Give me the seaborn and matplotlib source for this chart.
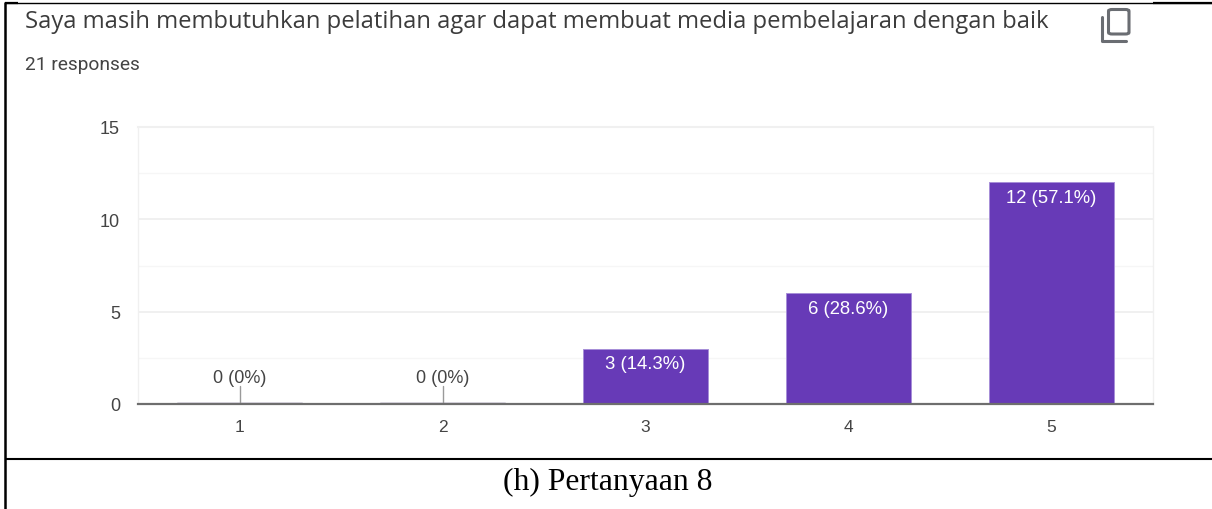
#!/usr/bin/env python3
import matplotlib
matplotlib.use("Agg")
import matplotlib.pyplot as plt
from matplotlib.lines import Line2D
from matplotlib.patches import FancyBboxPatch
import pandas as pd
import seaborn as sns

W, H = 1212, 510

# ── Data ──────────────────────────────────────────────────────────────────────
categories = ["1", "2", "3", "4", "5"]
counts = [0, 0, 3, 6, 12]
bar_labels = ["0 (0%)", "0 (0%)", "3 (14.3%)", "6 (28.6%)", "12 (57.1%)"]
y_ticks = [0, 5, 10, 15]
y_minor = [2.5, 7.5, 12.5]

TITLE = "Saya masih membutuhkan pelatihan agar dapat membuat media pembelajaran dengan baik"
SUBTITLE = "21 responses"
CAPTION = "(h) Pertanyaan 8"

PURPLE = "#673ab7"
TEXT = "#444444"
SANS = ["Liberation Sans", "DejaVu Sans"]


def fx(px):
    return px / W


def fy(px):
    return 1 - px / H


def frame_line(fig, x0, y0, x1, y1, lw=1.5):
    fig.add_artist(Line2D([fx(x0), fx(x1)], [fy(y0), fy(y1)], color="black",
                          linewidth=lw, solid_capstyle="butt"))


def main():
    sns.set_theme(style="white")
    plt.rcParams["font.family"] = SANS

    fig = plt.figure(figsize=(W / 100, H / 100), dpi=100, facecolor="white")
    ax = fig.add_axes([fx(138), fy(405), fx(1153 - 138), (405 - 128) / H])

    df = pd.DataFrame({"answer": categories, "count": counts})
    sns.barplot(data=df, x="answer", y="count", color=PURPLE, saturation=1,
                width=0.615, edgecolor="#a78fd8", linewidth=0.7, ax=ax)

    ax.set_xlim(-0.5, 4.5)
    ax.set_ylim(0, 15)
    ax.set_xlabel("")
    ax.set_ylabel("")
    ax.set_yticks(y_ticks)
    ax.set_yticks(y_minor, minor=True)
    ax.tick_params(axis="both", which="both", length=0)
    ax.tick_params(axis="x", labelsize=12.5, labelcolor=TEXT, pad=11)
    ax.tick_params(axis="y", labelsize=13, labelcolor=TEXT, pad=13)
    ax.grid(axis="y", which="major", color="#efefef", linewidth=1.3)
    ax.grid(axis="y", which="minor", color="#f6f6f6", linewidth=1)
    ax.set_axisbelow(True)

    for side in ["top", "left", "right"]:
        ax.spines[side].set_color("#f0f0f0")
        ax.spines[side].set_linewidth(1)
    ax.spines["top"].set_linewidth(1.5)
    ax.spines["bottom"].set_color("#6e6e6e")
    ax.spines["bottom"].set_linewidth(1.6)

    # value labels: white inside the bars, leader line above the empty ones
    for i, (c, lab) in enumerate(zip(counts, bar_labels)):
        if c == 0:
            ax.plot([i - 0.3075, i + 0.3075], [0.03, 0.03], color="#5c4a80", linewidth=1)
            ax.plot([i, i], [0, 0.95], color="#9a9a9a", linewidth=1)
            ax.text(i, 1.0, lab, ha="center", va="bottom", fontsize=13, color=TEXT)
        else:
            ax.text(i, c - 0.36, lab, ha="center", va="top", fontsize=13.3, color="white")

    fig.text(fx(25), fy(22.5), TITLE, fontsize=17.1, color="#3c3c3c", va="center",
             family=["Open Sans", "DejaVu Sans"])
    fig.text(fx(25), fy(64.5), SUBTITLE, fontsize=13.8, color=TEXT, va="center",
             family=["Roboto", "DejaVu Sans"])
    fig.text(fx(608), fy(482), CAPTION, fontsize=22.8, color="black", ha="center",
             va="center", family=["Liberation Serif"])

    # copy icon
    icon = "#6a6d72"
    fig.add_artist(FancyBboxPatch((fx(1108.5), fy(35)), fx(20.5), 24.5 / H,
                                  boxstyle="round,pad=0,rounding_size=0.003",
                                  facecolor="none", edgecolor=icon, linewidth=2.2,
                                  transform=fig.transFigure))
    fig.add_artist(Line2D([fx(1102), fx(1102), fx(1126)], [fy(18), fy(41.5), fy(41.5)],
                          color=icon, linewidth=2.2))

    # page table frame
    frame_line(fig, 5, 3, 5, 510, lw=1.8)
    frame_line(fig, 5, 3.5, 1212, 3.5, lw=1)
    frame_line(fig, 5, 4, 18, 4, lw=1.6)
    frame_line(fig, 5, 460, 1212, 460, lw=1.5)
    frame_line(fig, 1153, 4, 1212, 4, lw=1.6)

    fig.savefig("out.png", dpi=100)


if __name__ == "__main__":
    main()
